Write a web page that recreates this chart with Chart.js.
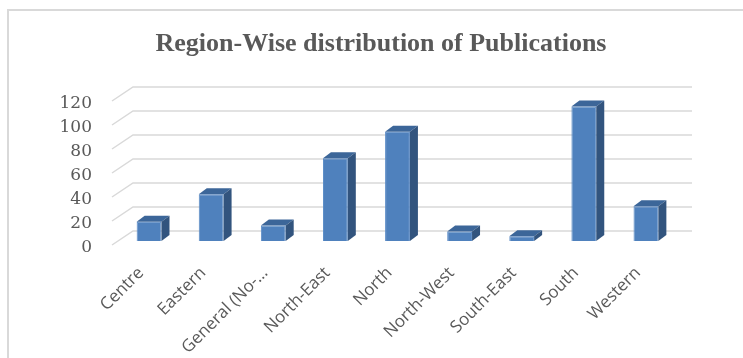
<!DOCTYPE html>
<html>
<head>
<meta charset="utf-8">
<script src="https://cdn.jsdelivr.net/npm/chart.js@4/dist/chart.umd.min.js"></script>
<style>
  html, body { margin: 0; padding: 0; background: #fff; }
  #wrap { width: 743px; height: 358px; position: relative; }
</style>
</head>
<body>
<div id="wrap"><canvas id="myChart" width="743" height="358"></canvas></div>
<script>
const regions = ['Centre', 'Eastern', 'General (No-…', 'North-East', 'North', 'North-West', 'South-East', 'South', 'Western']
const publications = [16, 39, 13, 69, 91, 8, 4, 112, 29]
const yTicks = [0, 20, 40, 60, 80, 100, 120]
const chartTitle = 'Region-Wise distribution of Publications'

// fake 3d: back wall offset and bar depth
const wall = { dx: 15, dy: -10, fx: -6, fy: 4 }
const depth = { dx: 8, dy: -6 }

const frame3d = {
    id: 'frame3d',
    beforeDraw(chart) {
        const ctx = chart.ctx
        // outer frame
        ctx.save()
        ctx.strokeStyle = '#d9d9d9'
        ctx.lineWidth = 2
        ctx.strokeRect(8, 10, 760, 380)
        // title
        ctx.fillStyle = '#595959'
        ctx.font = 'bold 26px "Liberation Serif"'
        ctx.textAlign = 'center'
        ctx.textBaseline = 'middle'
        ctx.fillText(chartTitle, 381, 44)
        ctx.restore()
    },
    beforeDatasetsDraw(chart) {
        const ctx = chart.ctx
        const y = chart.scales.y
        const area = chart.chartArea
        ctx.save()
        ctx.strokeStyle = '#d9d9d9'
        ctx.lineWidth = 1.5
        yTicks.forEach(v => {
            const py = y.getPixelForValue(v)
            ctx.beginPath()
            ctx.moveTo(area.left + wall.fx, py + wall.fy)
            ctx.lineTo(area.left + wall.dx, py + wall.dy)
            ctx.lineTo(area.right + wall.dx, py + wall.dy)
            ctx.stroke()
        })
        ctx.restore()
    },
    afterDatasetsDraw(chart) {
        const ctx = chart.ctx
        const meta = chart.getDatasetMeta(0)
        ctx.save()
        meta.data.forEach(bar => {
            const l = bar.x - bar.width / 2
            const r = bar.x + bar.width / 2
            const t = bar.y
            const b = bar.base
            // top face
            ctx.fillStyle = '#3c6699'
            ctx.beginPath()
            ctx.moveTo(l, t)
            ctx.lineTo(l + depth.dx, t + depth.dy)
            ctx.lineTo(r + depth.dx, t + depth.dy)
            ctx.lineTo(r, t)
            ctx.closePath()
            ctx.fill()
            // side face
            ctx.fillStyle = '#32547e'
            ctx.beginPath()
            ctx.moveTo(r, t)
            ctx.lineTo(r + depth.dx, t + depth.dy)
            ctx.lineTo(r + depth.dx, b + depth.dy)
            ctx.lineTo(r, b)
            ctx.closePath()
            ctx.fill()
        })
        ctx.restore()
    }
}

const ctx = document.getElementById('myChart')
new Chart(ctx, {
    type: 'bar',
    data: {
        labels: regions,
        datasets: [{
            data: publications,
            backgroundColor: '#4f81bd',
            borderColor: '#5a8bc6',
            borderWidth: 1,
            categoryPercentage: 1,
            barPercentage: 0.4
        }]
    },
    options: {
        responsive: false,
        animation: false,
        layout: { padding: { top: 97, left: 20, right: 66, bottom: 0 } },
        plugins: {
            legend: { display: false },
            title: { display: false },
            tooltip: { enabled: false }
        },
        scales: {
            y: {
                min: 0,
                max: 120,
                afterBuildTicks: s => { s.ticks = yTicks.map(v => ({ value: v })) },
                afterFit: s => { s.width = 98 },
                grid: { display: false, drawTicks: false },
                border: { display: false },
                ticks: {
                    autoSkip: false,
                    padding: 26,
                    labelOffset: 7,
                    color: '#595959',
                    font: { family: '"DejaVu Serif"', size: 17 }
                }
            },
            x: {
                afterFit: s => { s.height = 117 },
                grid: { display: false, drawTicks: false },
                border: { display: false },
                ticks: {
                    minRotation: 45,
                    maxRotation: 45,
                    autoSkip: false,
                    padding: 22,
                    labelOffset: -8,
                    color: '#595959',
                    font: { family: '"Open Sans"', size: 17 }
                }
            }
        }
    },
    plugins: [frame3d]
})
</script>
</body>
</html>
